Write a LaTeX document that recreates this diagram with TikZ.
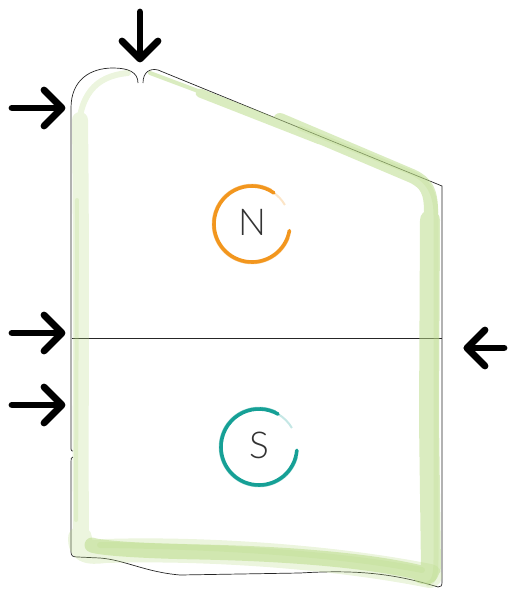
\documentclass[tikz,border=0pt]{standalone}
\usepackage{fontspec}
\newfontfamily\labfont{Lato Light}
\definecolor{bandgreen}{RGB}{185,218,135}
\definecolor{northorange}{RGB}{242,150,30}
\definecolor{southteal}{RGB}{22,160,150}
\begin{document}
\begin{tikzpicture}[x=1pt,y=-1pt,
  arrowline/.style={line width=6.8pt, line cap=round, line join=round, black},
  outline/.style={line width=0.7pt, black!85},
  band/.style={draw=bandgreen, line cap=round, line join=round},
  brush/.style={line width=3.6pt, line cap=round},
  letter/.style={font=\labfont\fontsize{37}{37}\selectfont, text=black!80, inner sep=0pt}]
\useasboundingbox (0,0) rectangle (508,592);

% black outline
\draw[outline] (71,449) -- (71,108) .. controls (71,80) and (90,68) .. (113,68)
  .. controls (128,68) and (138,72) .. (138,83);
\draw[outline] (71,449) .. controls (71,451) and (72,451) .. (73,451);
\draw[outline] (143,83) .. controls (143,72) and (150,68) .. (158,70) -- (442,186) -- (442,582)
  .. controls (442,586) and (441,587) .. (438,587);
\draw[outline] (73,457) .. controls (71,457) and (71,459) .. (71,462) -- (71,552)
  .. controls (71,556) and (73,557) .. (78,557) -- (100,558)
  .. controls (125,560) and (145,572) .. (180,575)
  -- (300,573) .. controls (350,570) and (390,572) .. (438,587);
\draw[outline] (72,338) -- (442,338);

% green band: faint left and bottom layer
\begin{scope}[opacity=0.28, transparency group]
  \draw[band, line width=16pt] (81,545) .. controls (80,400) and (82,300) .. (80,120);
  \draw[band, line width=6pt] (78,140) .. controls (78,95) and (95,76) .. (128,73);
  \draw[band, line width=24pt] (80,538) .. controls (80,552) and (88,553) .. (105,551)
    .. controls (200,548) and (330,556) .. (430,576);
\end{scope}
% green band: stronger top, right and bottom layer
\begin{scope}[opacity=0.52, transparency group]
  \draw[band, line width=4pt] (150,73) -- (230,103);
  \draw[band, line width=9pt] (200,93) -- (320,140);
  \draw[band, line width=14pt] (280,120) -- (412,176) .. controls (427,183) and (431,192) .. (431,212)
    -- (430,400) -- (432,570) .. controls (432,577) and (428,579) .. (420,576);
  \draw[band, line width=20pt] (430,220) -- (429,420) -- (431,568);
  \draw[band, line width=15pt] (425,574) .. controls (380,562) and (300,554) .. (200,552)
    .. controls (140,551) and (100,548) .. (92,545);
\end{scope}
% green band: darker streaks
\begin{scope}[opacity=0.25, transparency group]
  \draw[band, line width=5pt] (300,128) -- (410,172) .. controls (425,178) and (436,190) .. (436,215)
    -- (436,560) .. controls (436,575) and (434,582) .. (428,584);
  \draw[band, line width=6pt] (100,545) .. controls (200,546) and (330,552) .. (422,570);
  \draw[band, line width=4pt] (76,520) -- (77,200);
\end{scope}

% circles
\draw[brush, northorange] (252,224) ++(10:38) arc[start angle=10, end angle=305, radius=38];
\draw[line width=1.5pt, northorange, opacity=0.5] (252,224) ++(20:39.5) arc[start angle=20, end angle=300, radius=39.5];
\draw[line width=2pt, northorange, opacity=0.25] (252,224) ++(305:38) arc[start angle=305, end angle=330, radius=38];
\draw[brush, southteal] (259,447) ++(5:38) arc[start angle=5, end angle=300, radius=38];
\draw[line width=1.5pt, southteal, opacity=0.5] (259,447) ++(15:39.5) arc[start angle=15, end angle=295, radius=39.5];
\draw[line width=2pt, southteal, opacity=0.25] (259,447) ++(300:38) arc[start angle=300, end angle=330, radius=38];
\node[letter] (n) at (252,222) {N};
\node[letter] (s) at (259,445) {S};

% arrows
\draw[arrowline] (140,12) -- (140,58);
\draw[arrowline] (122,41) -- (140,59) -- (158,41);
\draw[arrowline] (12,108) -- (61,108);
\draw[arrowline] (44,90) -- (62,108) -- (44,126);
\draw[arrowline] (12,333) -- (61,333);
\draw[arrowline] (44,315) -- (62,333) -- (44,351);
\draw[arrowline] (12,405) -- (61,405);
\draw[arrowline] (44,387) -- (62,405) -- (44,423);
\draw[arrowline] (504,348) -- (467,348);
\draw[arrowline] (485,330) -- (467,348) -- (485,366);
\end{tikzpicture}
\end{document}
